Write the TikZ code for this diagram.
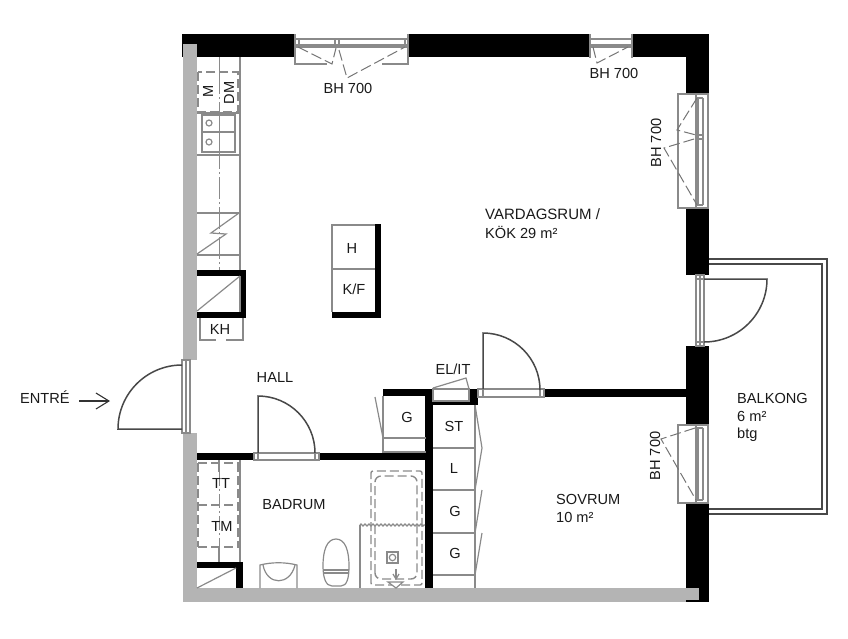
\documentclass[tikz,border=0pt]{standalone}
\usepackage{fontspec}
\setmainfont{Liberation Sans}
\usetikzlibrary{arrows.meta,decorations.pathmorphing}
\definecolor{wallgrey}{HTML}{B4B4B4}
\definecolor{linegrey}{HTML}{8A8A8A}
\definecolor{doorline}{HTML}{484848}
\tikzset{
  blackwall/.style={fill=black,draw=none},
  greywall/.style={fill=wallgrey,draw=none},
  thin grey/.style={draw=linegrey,line width=1.2pt},
  thick grey/.style={draw=linegrey,line width=2.2pt},
  dashgrey/.style={draw=linegrey,line width=1.4pt,dash pattern=on 9pt off 4pt},
  swingdash/.style={draw=linegrey!85!black,line width=1pt,dash pattern=on 11pt off 4pt},
  centerline/.style={draw=linegrey,line width=1pt,dash pattern=on 22pt off 3pt on 2pt off 3pt},
  door/.style={draw=doorline,line width=1.5pt},
  frame/.style={draw=linegrey,fill=white,line width=1.2pt},
  lbl/.style={inner sep=0pt,font=\fontsize{14.6}{16}\selectfont,text=black!90},
  lblw/.style={lbl,anchor=base west},
}
\begin{document}
\begin{tikzpicture}[x=1pt,y=-1pt]
\useasboundingbox (0,0) rectangle (848,638);
% walls
\fill[blackwall] (182,34) rectangle (709,57);
\fill[blackwall] (686,34) rectangle (709,94);
\fill[blackwall] (686,208) rectangle (709,275);
\fill[blackwall] (686,346) rectangle (709,425);
\fill[blackwall] (686,503) rectangle (709,602);
\fill[greywall] (183,44) rectangle (197,360);
\fill[greywall] (183,433) rectangle (197,602);
\fill[greywall] (183,588) rectangle (686,602);
\fill[greywall] (686,588) rectangle (699,600);
% kitchen
\draw[thin grey] (240,57) -- (240,270);
\draw[centerline] (219,57) -- (219,270);
\draw[thin grey] (197,155) -- (240,155);
\draw[thin grey] (197,113) -- (240,113);
\draw[thin grey] (197,213) -- (240,213);
\draw[thin grey] (197,255) -- (240,255);
\draw[dashgrey,fill=white] (198,72) rectangle (238,112);
\draw[thin grey] (202,115) rectangle (235,152);
\draw[thin grey] (202,132) -- (235,132);
\draw[thin grey] (209,123) circle (3);
\draw[thin grey] (209,142) circle (3);
\draw[centerline] (219,72) -- (219,155);
\draw[thin grey] (197,254) -- (226,234) -- (211,233) -- (239,213);
% KH closet
\fill[blackwall] (197,270) rectangle (246,276);
\fill[blackwall] (240,270) rectangle (246,318);
\fill[blackwall] (197,312) rectangle (246,318);
\draw[thin grey] (197,311) -- (240,276);
\draw[thin grey] (240,276) -- (240,312);
\draw[thin grey] (200,318) -- (200,340) -- (216,340);
\draw[thin grey] (226,340) -- (243,340) -- (243,318);
% island
\draw[thin grey] (375,225) -- (332,225) -- (332,312);
\draw[thin grey] (332,269) -- (375,269);
\fill[blackwall] (375,224) rectangle (381,318);
\fill[blackwall] (332,312) rectangle (381,318);
% entry door
\draw[frame] (182,360) rectangle (190,433);
\draw[thin grey] (186,360) -- (186,433);
\draw[door] (182,365) arc[start angle=-90,end angle=-180,radius=64] -- (182,429);
% hall wall & door
\fill[blackwall] (197,453) rectangle (253,460);
\fill[blackwall] (319,453) rectangle (426,460);
\draw[frame] (254,453) rectangle (319,460);
\draw[thin grey] (258,453) -- (258,460);
\draw[thin grey] (315,453) -- (315,460);
\draw[door] (258,453) -- (258,396) arc[start angle=-90,end angle=0,radius=57];
% G closet
\fill[blackwall] (383,389) rectangle (433,396);
\fill[blackwall] (425,389) rectangle (433,588);
\draw[thin grey] (383,396) -- (383,453);
\draw[thin grey] (383,438) -- (426,438);
\draw[thin grey] (375,397) -- (383,438);
\draw[thin grey] (383,452) -- (426,452);
% EL/IT + closets
\fill[blackwall] (433,401) rectangle (475,405);
\fill[blackwall] (469,389) rectangle (478,405);
\draw[frame] (433,389) rectangle (469,401);
\draw[thin grey] (433,388) -- (466,378) -- (469,389);
\draw[thin grey] (475,405) -- (475,588);
\draw[thin grey] (433,448) -- (475,448);
\draw[thin grey] (433,490) -- (475,490);
\draw[thin grey] (433,533) -- (475,533);
\draw[thin grey] (433,575) -- (475,575);
\draw[thin grey] (475,405) -- (482,448) -- (475,490);
\draw[thin grey] (475,533) -- (482,490);
\draw[thin grey] (475,575) -- (482,533);
% bedroom wall & door
\fill[blackwall] (544,389) rectangle (686,397);
\draw[frame] (478,389) rectangle (544,397);
\draw[thin grey] (483,389) -- (483,397);
\draw[thin grey] (540,389) -- (540,397);
\draw[door] (483,389) -- (483,333) arc[start angle=-90,end angle=0,radius=57];
% bath fixtures
\draw[thin grey] (240,460) -- (240,562);
\draw[thin grey] (219,460) -- (219,472);
\draw[centerline,dash pattern=on 14pt off 3pt on 2pt off 3pt] (219,472) -- (219,547);
\draw[dashgrey] (198,463) -- (239,463);
\draw[dashgrey] (198,463) -- (198,547);
\draw[dashgrey] (238,463) -- (238,547);
\draw[dashgrey] (198,505) -- (239,505);
\draw[dashgrey] (198,547) -- (239,547);
\draw[thin grey] (219,547) -- (219,562);
\fill[blackwall] (197,562) rectangle (243,568);
\fill[blackwall] (236,562) rectangle (243,588);
\draw[thin grey] (197,588) -- (236,568);
% washbasin
\draw[thin grey] (260,588) -- (260,565) .. controls (272,562) and (285,562) .. (297,565) -- (297,588);
\draw[thin grey] (263,565) .. controls (267,586) and (290,586) .. (295,565);
% toilet
\draw[thin grey] (336,539) .. controls (327,539) and (323,550) .. (323,566) .. controls (323,578) and (326,586) .. (332,586) -- (341,586) .. controls (347,586) and (349,578) .. (349,566) .. controls (349,550) and (345,539) .. (336,539) -- cycle;
\draw[thin grey] (323,570) -- (349,570);
\draw[thin grey] (323,573) -- (349,573);
% shower
\draw[dashgrey,rounded corners=2pt] (371,585) -- (371,471) -- (422,471) -- (422,585) -- cycle;
\draw[dashgrey,rounded corners=6pt] (375,579) -- (375,476) -- (417,476) -- (417,579) -- cycle;
\draw[thin grey,decorate,decoration={zigzag,segment length=4pt,amplitude=1pt}] (360,525) -- (425,525);
\draw[thick grey] (360,525) -- (360,588);
\draw[thin grey,fill=white] (387,552) rectangle (398,563);
\draw[thin grey] (392.5,557.5) circle (3.2);
\draw[thin grey] (396,569) -- (396,579);
\draw[thin grey] (393,574) -- (396,579) -- (399,574);
\draw[thin grey,fill=white] (388,582) -- (403,582) -- (396,588) -- cycle;
% balcony
\draw[draw=doorline,line width=1.1pt] (709,259) -- (827,259) -- (827,514) -- (709,514);
\draw[draw=doorline,line width=1.1pt] (709,264) -- (822,264) -- (822,509) -- (709,509);
% balcony door
\draw[frame] (696,275) rectangle (704,346);
\draw[thin grey] (700,275) -- (700,346);
\draw[thin grey] (696,279) -- (704,279);
\draw[thin grey] (696,342) -- (704,342);
\draw[door] (704,279) -- (767,279) arc[start angle=0,end angle=90,radius=63];
% top window 1
\fill[white] (295,34) rectangle (409,57);
\draw[thin grey] (295,34) -- (295,64) -- (327,64);
\draw[thin grey] (382,64) -- (408,64) -- (408,34);
\draw[thin grey] (296,39) -- (408,39);
\draw[thin grey] (296,45) -- (408,45);
\draw[thin grey] (296,47) -- (408,47);
\draw[thin grey] (299,40) -- (299,47);
\draw[thin grey] (335,40) -- (335,48);
\draw[thin grey] (339,40) -- (339,48);
\draw[thin grey] (405,40) -- (405,47);
\draw[swingdash] (298,47) -- (332,64) -- (336,48);
\draw[swingdash] (339,50) -- (347,78) -- (405,47);
% top window 2
\fill[white] (590,34) rectangle (632,57);
\draw[thin grey] (590,34) -- (590,58);
\draw[thin grey] (632,34) -- (632,58);
\draw[thin grey] (590,39) -- (632,39);
\draw[thin grey] (590,45) -- (632,45);
\draw[thin grey] (590,47) -- (632,47);
\draw[swingdash] (593,47) -- (597,63) -- (628,47);
% right window 1
\fill[white] (686,94) rectangle (709,208);
\draw[thin grey] (709,94) -- (678,94) -- (678,208) -- (709,208);
\draw[thin grey] (696,94) -- (696,208);
\draw[thin grey] (698,98) -- (698,205);
\draw[thin grey] (703,98) -- (703,205);
\draw[thin grey] (708,94) -- (708,208);
\draw[thin grey] (696,98) -- (703,98);
\draw[thin grey] (696,205) -- (703,205);
\draw[thin grey] (696,135) -- (703,135);
\draw[thin grey] (696,139) -- (703,139);
\draw[swingdash] (697,98) -- (677,130) -- (696,135);
\draw[swingdash] (694,139) -- (664,148) -- (697,205);
% right window 2
\fill[white] (686,425) rectangle (709,503);
\draw[thin grey] (709,425) -- (678,425) -- (678,503) -- (709,503);
\draw[thin grey] (696,425) -- (696,503);
\draw[thin grey] (698,428) -- (698,500);
\draw[thin grey] (703,428) -- (703,500);
\draw[thin grey] (708,425) -- (708,503);
\draw[thin grey] (696,428) -- (703,428);
\draw[thin grey] (696,500) -- (703,500);
\draw[swingdash] (695,428) -- (661,439) -- (696,500);
% labels
\node[lbl] (bh1) at (348,88) {BH 700};
\node[lbl] (bh2) at (614,73) {BH 700};
\node[lbl,rotate=90] (bh3) at (656,143) {BH 700};
\node[lbl,rotate=90] (bh4) at (655,456) {BH 700};
\node[lbl,rotate=90,fill=white,inner sep=0.5pt] (lm) at (208,91) {M};
\node[lbl,rotate=90,fill=white,inner sep=0.5pt] (ldm) at (229,93) {DM};
\node[lblw,font=\fontsize{15}{16}\selectfont] (vard) at (485,219) {VARDAGSRUM /};
\node[lblw] (kok) at (485,238) {KÖK 29 m²};
\node[lbl] (lh) at (352,248) {H};
\node[lbl] (lkf) at (354,289) {K/F};
\node[lbl] (lkh) at (220,329) {KH};
\node[lbl] (hall) at (275,377) {HALL};
\node[lblw] (entre) at (20,403) {ENTRÉ};
\node[lbl] (elit) at (453,369) {EL/IT};
\node[lbl] (g0) at (407,417) {G};
\node[lbl] (st) at (454,426) {ST};
\node[lbl] (ll) at (454,468) {L};
\node[lbl] (g1) at (455,511) {G};
\node[lbl] (g2) at (455,553) {G};
\node[lbl] (tt) at (221,483) {TT};
\node[lbl] (tm) at (222,526) {TM};
\node[lbl] (bad) at (294,505) {BADRUM};
\node[lblw] (sov) at (556,504) {SOVRUM};
\node[lblw] (m10) at (556,522) {10 m²};
\node[lblw] (balk) at (737,403) {BALKONG};
\node[lblw] (m6) at (737,421) {6 m²};
\node[lblw] (btg) at (737,438) {btg};
% entry arrow
\coordinate (arrA) at (79,401);
\coordinate (arrB) at (110,401);
\draw[draw=black!80,line width=1.1pt,-{Straight Barb[length=13pt,width=16pt]}] (arrA) -- (arrB);
\end{tikzpicture}
\end{document}
